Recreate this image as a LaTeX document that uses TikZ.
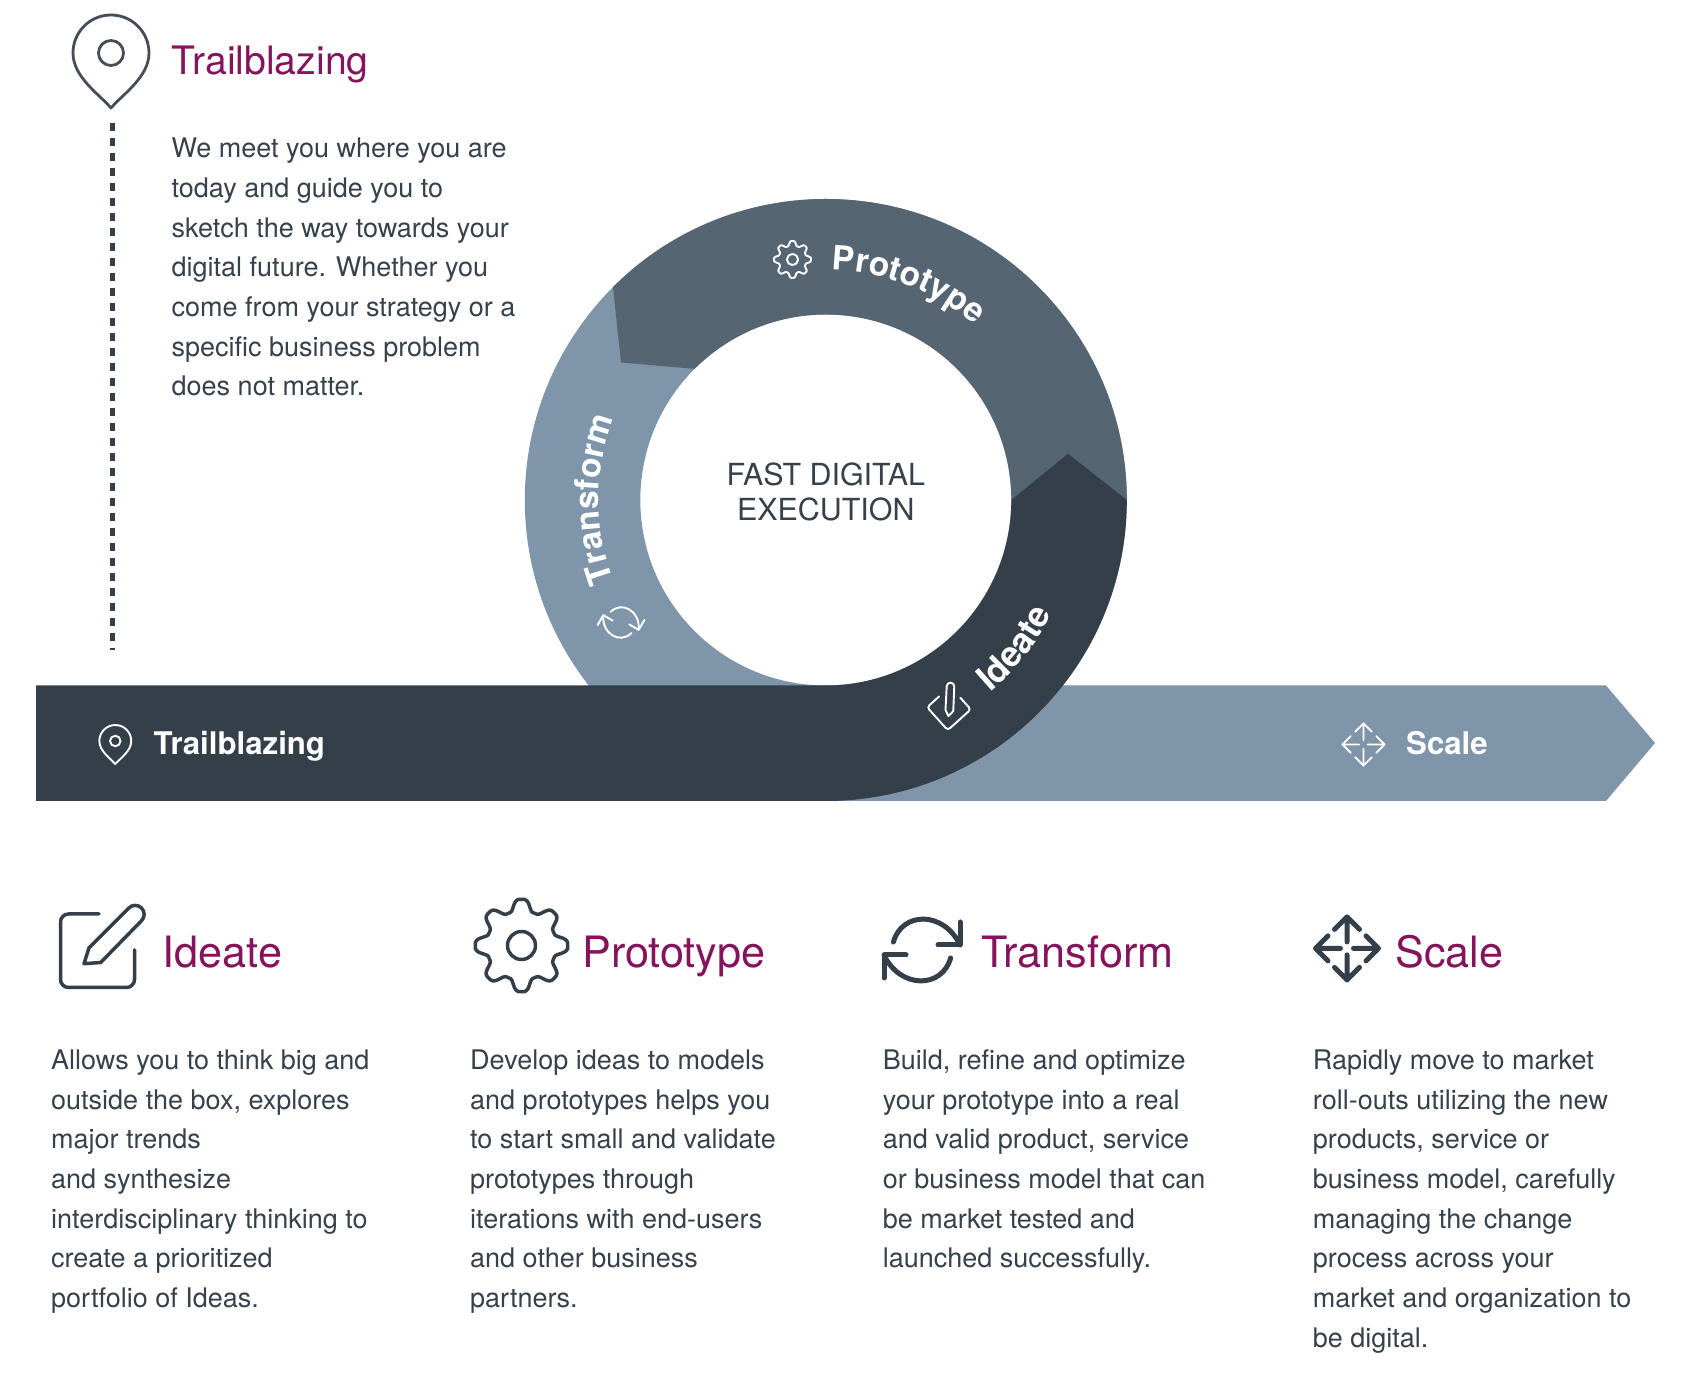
\documentclass[tikz,border=0pt]{standalone}
\usepackage{fontspec}
\setmainfont{TeX Gyre Heros}
\usetikzlibrary{decorations.text}
\definecolor{ringdark}{HTML}{353F49}
\definecolor{ringmid}{HTML}{556572}
\definecolor{ringlight}{HTML}{7F95A9}
\definecolor{plum}{HTML}{86145C}
\definecolor{bodyink}{HTML}{36414C}
\newcommand{\ringlab}{\fontsize{33.5}{33.5}\selectfont\bfseries}
\newcommand{\ringlabB}{\fontsize{35}{35}\selectfont\bfseries}
\tikzset{
  titletext/.style={anchor=base west,inner sep=0pt,text=plum,font=\fontsize{43.2}{43.2}\selectfont},
  toptitle/.style={anchor=base west,inner sep=0pt,text=plum,font=\fontsize{39.2}{39.2}\selectfont},
  bodytext/.style={anchor=base west,inner sep=0pt,text=bodyink,align=left,font=\fontsize{27}{39.7}\selectfont},
  barlabel/.style={anchor=base west,inner sep=0pt,text=white,font=\fontsize{31.2}{31.2}\selectfont\bfseries},
  bigicon/.style={draw=ringdark,line width=3.5pt,line join=round,line cap=round},
  heavyicon/.style={draw=ringdark,line width=5pt,line join=round,line cap=round},
  smallicon/.style={draw=white,line width=1.9pt,line join=round,line cap=round},
  pinicon/.pic={
    \draw (0,-55) .. controls (-12,-41) and (-38,-24) .. (-38,0) arc (180:0:38) .. controls (38,-24) and (12,-41) .. (0,-55) -- cycle;
    \draw (0,0) circle (12.5);
  },
  scaleicon/.pic={
    \foreach \r in {0,90,180,270}{
      \draw[rotate=\r] (6.5,0) -- (31.5,0) (19,12.5) -- (31.5,0) -- (19,-12.5);
    }
  },
  pencilicon/.pic={
    \draw[rounded corners=\iconR] (0,37) -- (-38.5,37) -- (-38.5,-36.5) -- (35.5,-36.5) -- (35.5,1);
    \draw (29.8,43) arc (135:-45:9) -- (1.7,-11.5) -- (-15,-12.7) -- (-10,3.2) -- cycle;
  },
  gearicon/.pic={
    \draw plot[domain=0:360,samples=193,variable=\t] ({\t}:{40.5+6.5*(cos(8*\t)-.12*cos(24*\t))}) -- cycle;
    \draw (0,0) circle (14);
  },
  refreshicon/.pic={
    \foreach \r in {0,180}{
      \draw[rotate=\r] (-28.6,8) .. controls (-20,39) and (22,39) .. (38,5);
      \draw[rotate=\r] (38,28) -- (38,5) -- (16,5);
    }
  }
}
\begin{document}
\begin{tikzpicture}[x=1pt,y=1pt]
\useasboundingbox (0,0) rectangle (1682,1374);
\fill[white] (0,0) rectangle (1682,1374);
\coordinate (C) at (825.8,874);
% light bar and ring
\fill[ringlight] (825.8,688.5) -- (1606,688.5) -- (1655,631) -- (1606,573) -- (825.8,573) -- cycle;
\fill[ringlight,even odd rule] (C) circle (301) (C) circle (185.5);
% prototype segment
\fill[ringmid] ([shift={(135:301)}]C) arc (135:0:301) -- (1068,920.4) -- ([shift={(0:185.5)}]C) arc (0:135:185.5) -- (621,1011.5) -- cycle;
% dark band
\fill[ringdark] ([shift={(0:301)}]C) arc (0:-90:301) -- (36,573) -- (36,688.5) -- (825.8,688.5) arc (-90:0:185.5) -- (1068,920.4) -- cycle;
% centre
\node[anchor=base,inner sep=0pt,text=bodyink,align=center,font=\fontsize{30.4}{35}\selectfont] (centre) at (825.8,853) {FAST DIGITAL\\EXECUTION};
% ring labels
\path[decorate,decoration={text along path,text color=white,text={|\ringlab|Prototype}}] ([shift={(88.5:230)}]C) arc (88.5:40:230);
\path[decorate,decoration={text along path,text color=white,text={|\ringlab|Transform}}] ([shift={(200.8:227)}]C) arc (200.8:150:227);
\path[decorate,decoration={text along path,text color=white,text={|\ringlabB|Ideate}}] ([shift={(-49.5:253)}]C) arc (-49.5:-15:253);
% ring icons
\pic[smallicon,scale=.40] at (792.5,1114.5) {gearicon};
\pic[smallicon,scale=.5,rotate=-30] at (621,751.5) {refreshicon};
\def\iconR{3pt}
\pic[smallicon,scale=.42,rotate=42] at (949.5,666) {pencilicon};
% bar labels
\pic[smallicon,scale=.42] at (115.3,633) {pinicon};
\node[barlabel] (barT) at (153.5,619.7) {Trailblazing};
\pic[smallicon,scale=.67] at (1363.5,629.5) {scaleicon};
\node[barlabel] (barS) at (1406,619) {Scale};
% top block
\pic[draw=ringdark!92!white,line width=2.8pt,line join=round,scale=1] at (111,1321) {pinicon};
\coordinate (dotA) at (112.5,1251.3);
\coordinate (dotB) at (112.5,724);
\draw[draw=ringdark,line width=4.2pt,dash pattern=on 8pt off 7pt] (dotA) -- (dotB);
\node[toptitle] (topT) at (171.7,1299.5) {Trailblazing};
\node[bodytext] (topB) at (171.5,978.1) {We meet you where you are\\today and guide you to\\sketch the way towards your\\digital future. Whether you\\come from your strategy or a\\specific business problem\\does not matter.};
% bottom icons
\def\iconR{8pt}
\pic[bigicon] at (99,423) {pencilicon};
\pic[bigicon] at (521.5,428.5) {gearicon};
\pic[heavyicon] at (922,424) {refreshicon};
\pic[heavyicon] at (1347,425.6) {scaleicon};
% bottom titles
\node[titletext] (t1) at (162.5,406) {Ideate};
\node[titletext] (t2) at (582,406) {Prototype};
\node[titletext] (t3) at (981,406) {Transform};
\node[titletext] (t4) at (1395,406) {Scale};
% bottom body
\node[bodytext] (b1) at (51,66.3) {Allows you to think big and\\outside the box, explores\\major trends\\and synthesize\\interdisciplinary thinking to\\create a prioritized\\portfolio of Ideas.};
\node[bodytext] (b2) at (470,66.3) {Develop ideas to models\\and prototypes helps you\\to start small and validate\\prototypes through\\iterations with end-users\\and other business\\partners.};
\node[bodytext] (b3) at (882.7,106) {Build, refine and optimize\\your prototype into a real\\and valid product, service\\or business model that can\\be market tested and\\launched successfully.};
\node[bodytext] (b4) at (1312.7,26.6) {Rapidly move to market\\roll-outs utilizing the new\\products, service or\\business model, carefully\\managing the change\\process across your\\market and organization to\\be digital.};
\end{tikzpicture}
\end{document}
